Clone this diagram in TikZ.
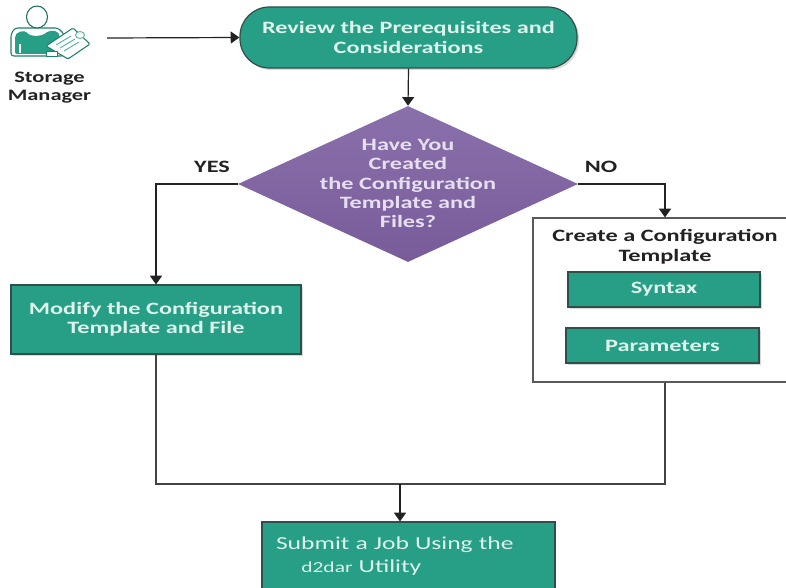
\documentclass[tikz,border=0pt]{standalone}
\usepackage{fontspec}
\setmainfont{Carlito}
\newfontfamily\wide[FakeStretch=1.4]{Carlito}
\usetikzlibrary{arrows.meta,shapes.geometric,shadows}
\definecolor{teal1}{HTML}{279E86}
\definecolor{edge1}{HTML}{2F4F4A}
\definecolor{light1}{HTML}{DDF3EC}
\definecolor{ink}{HTML}{222222}
\definecolor{purpletop}{HTML}{8A70AB}
\definecolor{purplebot}{HTML}{785C9A}
\definecolor{lilac}{HTML}{E6DFF0}
\tikzset{
  flowtext/.style={font=\wide\bfseries\fontsize{13}{14.6}\selectfont,align=center},
  softshadow/.style={drop shadow={opacity=.3,shadow xshift=1.5pt,shadow yshift=-1.5pt}},
  tealbox/.style={draw=edge1,line width=.9pt,fill=teal1,text=light1,flowtext,inner sep=0pt,softshadow},
  darktext/.style={flowtext,text=ink,inner sep=0pt},
  flow/.style={draw=ink,line width=.9pt,-{Triangle[width=9pt,length=6.5pt]}},
  plain/.style={draw=ink!85,line width=.9pt},
}
\begin{document}
\begin{tikzpicture}[x=.75pt,y=-.75pt]
\useasboundingbox (0,0) rectangle (786,588);
% person icon
\begin{scope}[line join=round]
\draw[teal1!80!black,line width=.8pt,fill=white,rounded corners=2pt] (11,56) -- (11,34) -- (15,28) -- (58,28) -- (64,34) -- (64,56) -- cycle;
\fill[teal1,rounded corners=1.5pt] (15,54) -- (15,36) -- (18,32) -- (26,31) .. controls (30,37) and (42,37) .. (48,31) -- (57,31) -- (60,36) -- (60,54) -- cycle;
\draw[teal1!70!black,line width=.8pt,fill=white] (37,17) ellipse (10.5 and 11);
\draw[white,line width=.9pt] (20,44) -- (20,53);
\draw[teal1!80!black,line width=.8pt,fill=white,rounded corners=1pt] (46,46) -- (73,28) -- (90,44) -- (68,59) -- cycle;
\draw[teal1!80,line width=.7pt] (56,45) -- (71,36) (60,48) -- (75,39) (64,51) -- (79,42);
\draw[teal1!70,line width=.8pt,fill=white] (80,35) ellipse (4.5 and 3.5);
\draw[teal1!80!black,line width=.6pt,fill=white] (46,51) rectangle (57,56);
\end{scope}
\node[darktext,font=\wide\bfseries\fontsize{12}{14}\selectfont] (role) at (49.5,87.5) {Storage\\Manager};
\coordinate (roleout) at (107,38);
% nodes
\node[tealbox,minimum width=252.75pt,minimum height=45.75pt,rounded corners=22pt] (review) at (408.5,37.5) {Review the Prerequisites and\\Considerations};
\node[diamond,aspect=2.18,minimum width=255pt,minimum height=117pt,inner sep=0pt,top color=purpletop,bottom color=purplebot] (decide) at (408,184) {};
\node[flowtext,text=lilac,inner sep=0pt] (decidetext) at (408,183.5) {Have You\\Created\\the Configuration\\Template and\\Files?};
\node[tealbox,minimum width=217.5pt,minimum height=51.75pt] (modify) at (156,319.5) {Modify the Configuration\\Template and File};
\node[draw=ink!75,line width=.9pt,fill=white,minimum width=198pt,minimum height=123pt,inner sep=0pt] (create) at (665,300) {};
\node[darktext] (createtitle) at (665,247) {Create a Configuration\\Template};
\node[tealbox,minimum width=144pt,minimum height=26.25pt] (syntax) at (664,289.5) {Syntax};
\node[tealbox,minimum width=144.75pt,minimum height=26.25pt] (parameters) at (662.5,345.5) {Parameters};
\node[draw=edge1,line width=.9pt,fill=teal1,text=light1,minimum width=219.75pt,minimum height=51pt,inner xsep=10.5pt,inner ysep=0pt,align=left,text width=198.75pt,font=\wide\fontsize{13.7}{17}\selectfont] (submit) at (408.5,556) {Submit a Job Using the\\\hspace*{19pt}{\fontsize{11.5}{17}\selectfont d2dar} Utility};
\node[darktext] (yes) at (212,167) {YES};
\node[darktext] (no) at (601,167) {NO};
\coordinate (join) at (400,484);
% connectors
\draw[flow] (roleout) -- (review.west);
\draw[flow] (review.south) -- (decide.north);
\draw[flow] (decide.west) -| (modify.north);
\draw[flow] (decide.east) -| (create.north);
\draw[plain] (modify.south) |- (join) -| (create.south);
\draw[flow] (join) -- (join|-submit.north);
\end{tikzpicture}
\end{document}
